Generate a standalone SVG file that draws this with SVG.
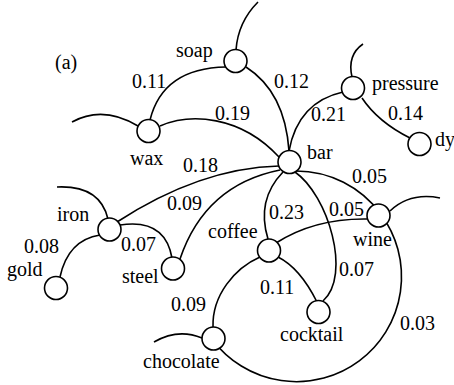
<svg xmlns="http://www.w3.org/2000/svg" width="454" height="385" viewBox="0 0 454 385">
<rect width="454" height="385" fill="#fff"/>
<g id="connectors" fill="none" stroke="#000" stroke-width="1.6">
<path d="M236,50 Q238,22 258,2"/>
<path d="M150,120 Q163,68 226,67"/>
<path d="M246,67 Q285,92 289,151"/>
<path d="M352,77 Q347,55 363,44"/>
<path d="M343,92 Q298,102 289,151"/>
<path d="M362,98 Q378,122 410,138"/>
<path d="M138,126 Q103,105 72,122"/>
<path d="M160,126 C190,113 240,115 279,157"/>
<path d="M279,166 Q200,168 117,222"/>
<path d="M280,170 Q205,185 180,259"/>
<path d="M283,172 Q256,200 268,239"/>
<path d="M295,172 C328,195 352,275 323,301"/>
<path d="M296,171 A105,105 0 0 1 380.7,213.9"/>
<path d="M380.7,213.9 A105,105 0 0 1 212.3,339.4"/>
<path d="M390,211 Q410,192 440,198"/>
<path d="M276,243 Q315,218 368,219"/>
<path d="M278,257 Q300,268 317,302"/>
<path d="M260,257 C235,268 212,295 213,327"/>
<path d="M202,338 Q178,328 154,342"/>
<path d="M108,219 Q100,185 57,187"/>
<path d="M120,225 Q165,218 172,258"/>
<path d="M100,235 Q68,240 60,277"/>
</g>
<g id="edge-labels">
<text font-family="Times New Roman" font-size="20" x="132" y="88">0.11</text>
<text font-family="Times New Roman" font-size="20" x="274" y="88">0.12</text>
<text font-family="Times New Roman" font-size="20" x="311" y="121">0.21</text>
<text font-family="Times New Roman" font-size="20" x="388" y="120">0.14</text>
<text font-family="Times New Roman" font-size="20" x="215" y="120">0.19</text>
<text font-family="Times New Roman" font-size="20" x="183" y="172">0.18</text>
<text font-family="Times New Roman" font-size="20" x="352" y="183">0.05</text>
<text font-family="Times New Roman" font-size="20" x="167" y="210">0.09</text>
<text font-family="Times New Roman" font-size="20" x="269" y="219">0.23</text>
<text font-family="Times New Roman" font-size="20" x="329" y="216">0.05</text>
<text font-family="Times New Roman" font-size="20" x="24" y="253">0.08</text>
<text font-family="Times New Roman" font-size="20" x="121" y="251">0.07</text>
<text font-family="Times New Roman" font-size="20" x="339" y="276">0.07</text>
<text font-family="Times New Roman" font-size="20" x="260" y="294">0.11</text>
<text font-family="Times New Roman" font-size="20" x="171" y="311">0.09</text>
<text font-family="Times New Roman" font-size="20" x="400" y="330">0.03</text>
</g>
<text font-family="Times New Roman" font-size="20" x="55" y="69">(a)</text>
<g id="soap"><circle cx="235.5" cy="61" r="11.5" fill="#fff" stroke="#000" stroke-width="1.6"/><text font-family="Times New Roman" font-size="20" x="176" y="57">soap</text></g>
<g id="pressure"><circle cx="353" cy="88" r="11.5" fill="#fff" stroke="#000" stroke-width="1.6"/><text font-family="Times New Roman" font-size="20" x="372" y="90">pressure</text></g>
<g id="dy"><circle cx="419.5" cy="144" r="11.5" fill="#fff" stroke="#000" stroke-width="1.6"/><text font-family="Times New Roman" font-size="20" x="435" y="146">dy</text></g>
<g id="wax"><circle cx="148.5" cy="131" r="11.5" fill="#fff" stroke="#000" stroke-width="1.6"/><text font-family="Times New Roman" font-size="20" x="130" y="165">wax</text></g>
<g id="bar"><circle cx="289.5" cy="162" r="11.5" fill="#fff" stroke="#000" stroke-width="1.6"/><text font-family="Times New Roman" font-size="20" x="307" y="159">bar</text></g>
<g id="iron"><circle cx="109.5" cy="229.5" r="11.5" fill="#fff" stroke="#000" stroke-width="1.6"/><text font-family="Times New Roman" font-size="20" x="57" y="221">iron</text></g>
<g id="steel"><circle cx="173" cy="268.5" r="11.5" fill="#fff" stroke="#000" stroke-width="1.6"/><text font-family="Times New Roman" font-size="20" x="122" y="283">steel</text></g>
<g id="gold"><circle cx="56" cy="288" r="11.5" fill="#fff" stroke="#000" stroke-width="1.6"/><text font-family="Times New Roman" font-size="20" x="7" y="276">gold</text></g>
<g id="coffee"><circle cx="269" cy="250.5" r="11.5" fill="#fff" stroke="#000" stroke-width="1.6"/><text font-family="Times New Roman" font-size="20" x="208" y="238">coffee</text></g>
<g id="wine"><circle cx="378.5" cy="215.5" r="11.5" fill="#fff" stroke="#000" stroke-width="1.6"/><text font-family="Times New Roman" font-size="20" x="353" y="246">wine</text></g>
<g id="cocktail"><circle cx="318.5" cy="312" r="11.5" fill="#fff" stroke="#000" stroke-width="1.6"/><text font-family="Times New Roman" font-size="20" x="280" y="341">cocktail</text></g>
<g id="chocolate"><circle cx="213.5" cy="338.5" r="11.5" fill="#fff" stroke="#000" stroke-width="1.6"/><text font-family="Times New Roman" font-size="20" x="143" y="368">chocolate</text></g>
</svg>
